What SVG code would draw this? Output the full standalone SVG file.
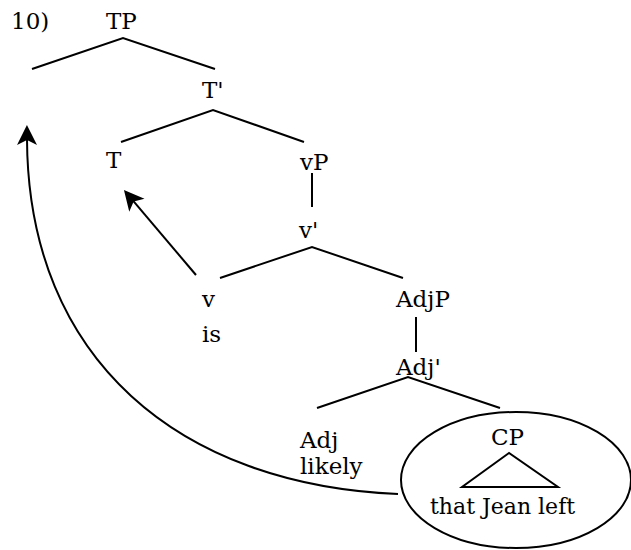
<svg xmlns="http://www.w3.org/2000/svg" width="631" height="550" viewBox="0 0 631 550">
<style>
text{font-family:"DejaVu Serif","Liberation Serif",serif;font-size:23px;fill:#000}
.l{fill:none;stroke:#000;stroke-width:2}
</style>
<defs>
<marker id="ah" markerUnits="userSpaceOnUse" markerWidth="24" markerHeight="24" viewBox="0 -12 24 24" refX="8" refY="0" orient="auto">
<path d="M22,0 L2,-10 L7,0 L2,10 Z" fill="#000"/>
</marker>
</defs>
<rect width="631" height="550" fill="#fff"/>
<text x="11" y="29">10)</text>
<g id="TP"><text x="106" y="29">TP</text></g>
<g id="Tbar"><text x="202" y="98">T'</text></g>
<g id="T"><text x="106" y="168">T</text></g>
<g id="vP"><text x="300" y="170">vP</text></g>
<g id="vbar"><text x="299" y="238">v'</text></g>
<g id="v"><text x="202" y="307">v</text><text x="202" y="342">is</text></g>
<g id="AdjP"><text x="396" y="307">AdjP</text></g>
<g id="Adjbar"><text x="396" y="375">Adj'</text></g>
<g id="Adj"><text x="300" y="448">Adj</text><text x="300" y="474">likely</text></g>
<g id="CP">
<ellipse cx="516" cy="480" rx="115" ry="68" class="l"/>
<text x="491" y="445">CP</text>
<path d="M509 453 L462 487 L558 487 Z" class="l"/>
<text x="430" y="514" style="font-size:22px">that Jean left</text>
</g>
<g id="connectors">
<path class="l" d="M32 69 L123 38 L215 69"/>
<path class="l" d="M121 142 L213 110 L304 142"/>
<path class="l" d="M312 173 L312 207"/>
<path class="l" d="M220 278 L312 247 L403 278"/>
<path class="l" d="M416 317 L416 352"/>
<path class="l" d="M317 408 L408 377 L500 408"/>
<path class="l" d="M196 275 L133 200.7" marker-end="url(#ah)"/>
<path class="l" d="M398 494 C180 485 28 360 27 139" marker-end="url(#ah)"/>
</g>
</svg>
